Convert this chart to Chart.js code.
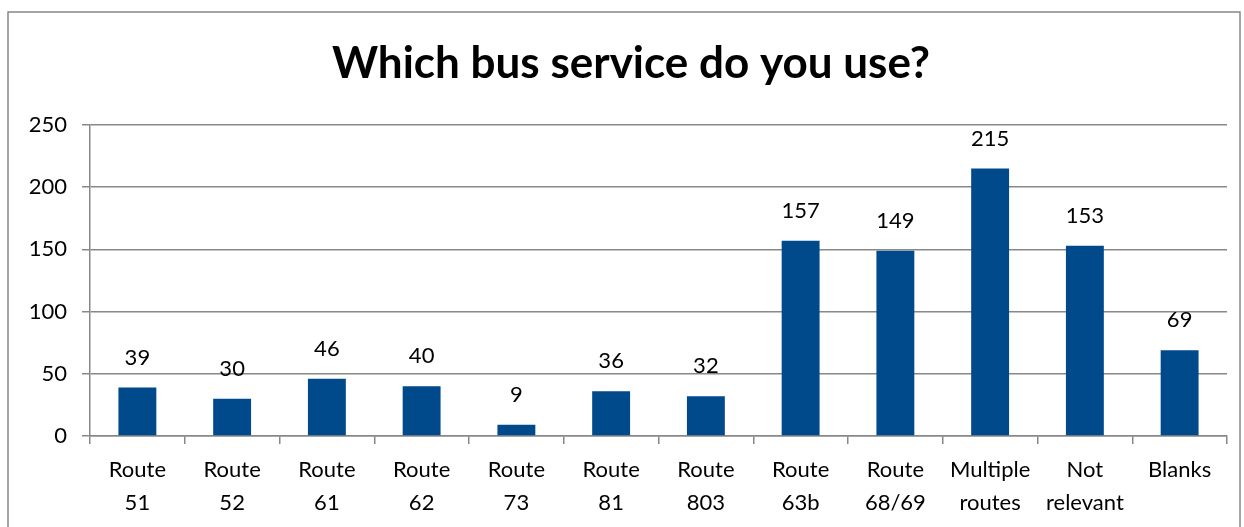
<!DOCTYPE html>
<html>
<head>
<meta charset="utf-8">
<script src="https://cdn.jsdelivr.net/npm/chart.js@4/dist/chart.umd.min.js"></script>
<style>
  html, body { margin: 0; padding: 0; background: #fff; }
  #wrap { position: relative; width: 1244px; height: 527px; }
</style>
</head>
<body>
<div id="wrap"><canvas id="c" width="1244" height="527"></canvas></div>
<script>
const categories = [
  ["Route", "51"], ["Route", "52"], ["Route", "61"], ["Route", "62"],
  ["Route", "73"], ["Route", "81"], ["Route", "803"], ["Route", "63b"],
  ["Route", "68/69"], ["Multiple", "routes"], ["Not", "relevant"], ["Blanks"]
];
const responses = [39, 30, 46, 40, 9, 36, 32, 157, 149, 215, 153, 69];
const chartTitle = "Which bus service do you use?";

const FONT = "Lato, 'Open Sans', sans-serif";

const frame = {
  id: 'frame',
  beforeDraw(chart) {
    const ctx = chart.ctx;
    ctx.save();
    ctx.fillStyle = '#fff';
    ctx.fillRect(0, 0, chart.width, chart.height);
    ctx.strokeStyle = '#888';
    ctx.lineWidth = 1.5;
    ctx.strokeRect(8, 12, 1232, 540);
    ctx.restore();
  }
};

const titleText = {
  id: 'titleText',
  afterDraw(chart) {
    const ctx = chart.ctx;
    ctx.save();
    ctx.font = "bold 44px " + FONT;
    ctx.fillStyle = '#000';
    ctx.textAlign = 'center';
    ctx.textBaseline = 'alphabetic';
    ctx.fillText(chartTitle, 631, 78);
    ctx.restore();
  }
};

const valueLabels = {
  id: 'valueLabels',
  afterDatasetsDraw(chart) {
    const ctx = chart.ctx;
    const meta = chart.getDatasetMeta(0);
    ctx.save();
    ctx.font = "22px " + FONT;
    ctx.fillStyle = '#000';
    ctx.textAlign = 'center';
    ctx.textBaseline = 'middle';
    meta.data.forEach((bar, i) => {
      ctx.fillText(String(chart.data.datasets[0].data[i]), bar.x, bar.y - 30);
    });
    ctx.restore();
  }
};

new Chart(document.getElementById('c'), {
  type: 'bar',
  data: {
    labels: categories,
    datasets: [{
      data: responses,
      backgroundColor: '#004A8C',
      barPercentage: 0.4,
      categoryPercentage: 1.0
    }]
  },
  options: {
    responsive: false,
    animation: false,
    layout: { padding: { left: 0, right: 17, top: 125, bottom: 0 } },
    plugins: {
      legend: { display: false },
      tooltip: { enabled: false },
      title: { display: false }
    },
    scales: {
      x: {
        offset: true,
        afterFit(scale) { scale.height = 91; },
        grid: {
          drawOnChartArea: false,
          drawTicks: true,
          tickLength: 8,
          color: '#888',
          lineWidth: 1.5,
          offset: true
        },
        border: { color: '#888', width: 1.5 },
        ticks: {
          color: '#000',
          font: { family: FONT, size: 22, lineHeight: 1.5 },
          padding: 9,
          maxRotation: 0,
          autoSkip: false
        }
      },
      y: {
        min: 0,
        max: 250,
        afterFit(scale) { scale.width = 90; },
        grid: {
          color: '#888',
          lineWidth: 1.5,
          tickLength: 8
        },
        border: { color: '#888', width: 1.5 },
        ticks: {
          stepSize: 50,
          color: '#000',
          font: { family: FONT, size: 22 },
          padding: 15
        }
      }
    }
  },
  plugins: [frame, titleText, valueLabels]
});
</script>
</body>
</html>
